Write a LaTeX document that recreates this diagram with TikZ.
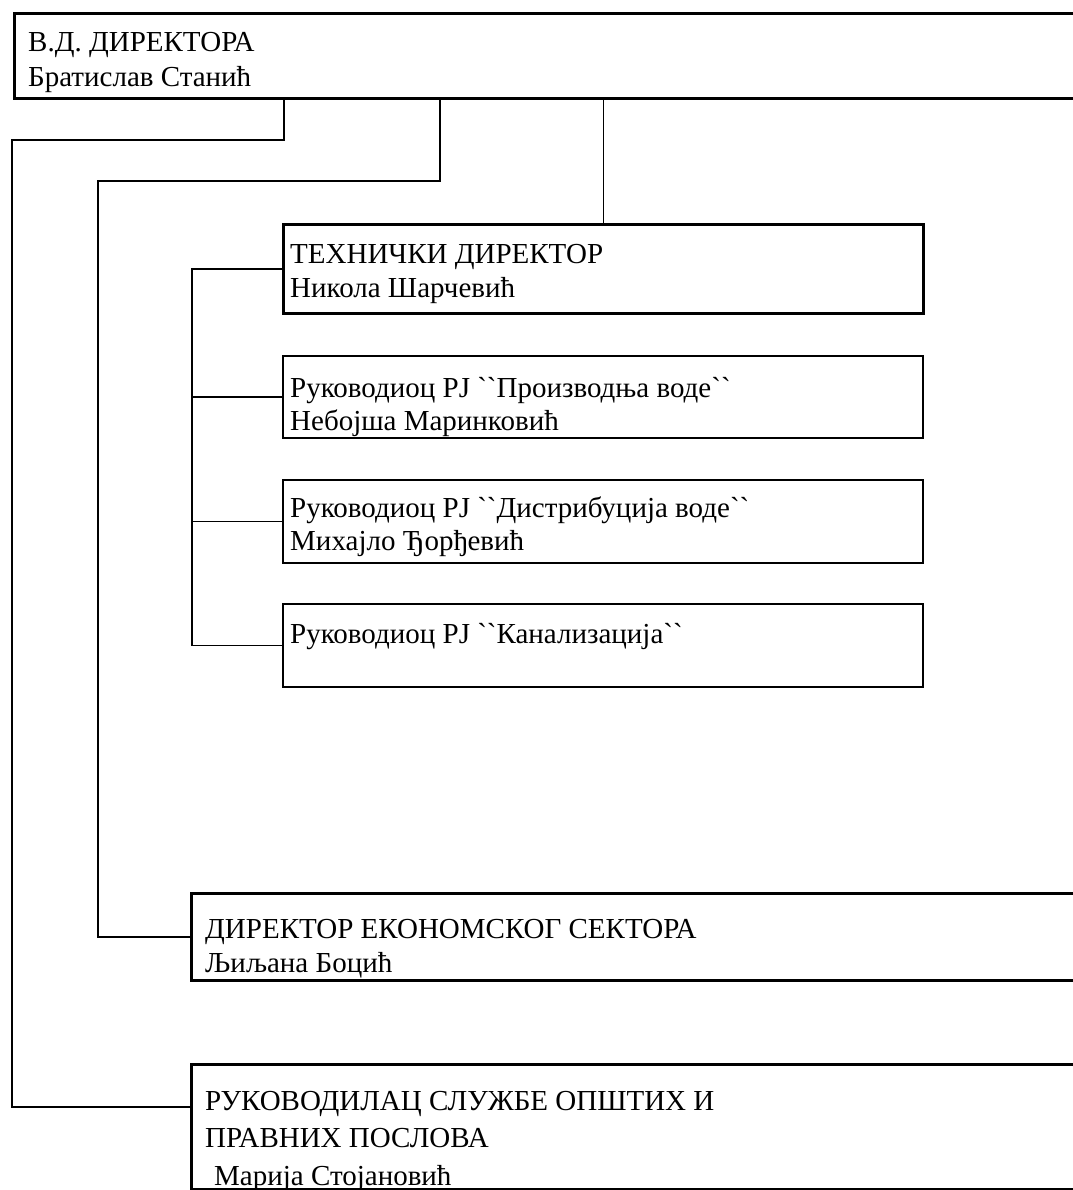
\documentclass[tikz,border=0pt]{standalone}
\usepackage{fontspec}
\usepackage{tikz}
\newfontfamily\orgfont{Liberation Serif}

\tikzset{
  bigbox/.style={draw, line width=3.2pt, inner sep=0pt, anchor=north west},
  smallbox/.style={draw, line width=1.6pt, inner sep=0pt, anchor=north west},
  conn/.style={line width=1.6pt},
  txt/.style={anchor=base west, inner sep=0pt, font=\orgfont\fontsize{29}{33}\selectfont}
}

\begin{document}
\begin{tikzpicture}[x=1pt,y=-1pt]
  \useasboundingbox (0,0) rectangle (1072,1190);

  % boxes
  \node[bigbox, minimum width=1062pt, minimum height=85pt] (vd) at (13,12) {};
  \node[bigbox, minimum width=640pt, minimum height=89pt] (tech) at (282,223) {};
  \node[smallbox, minimum width=640pt, minimum height=82pt] (prod) at (282,355) {};
  \node[smallbox, minimum width=640pt, minimum height=83pt] (dist) at (282,479) {};
  \node[smallbox, minimum width=640pt, minimum height=83pt] (kan) at (282,603) {};
  \node[bigbox, minimum width=885pt, minimum height=87pt] (econ) at (190,892) {};
  \node[bigbox, minimum width=885pt, minimum height=125pt] (legal) at (190,1063) {};

  % texts
  \node[txt] (vdtitle) at (28,52) {В.Д. ДИРЕКТОРА};
  \node[txt] (vdname) at (28,87) {Братислав Станић};
  \node[txt] (techtitle) at (290,263) {ТЕХНИЧКИ ДИРЕКТОР};
  \node[txt] (techname) at (290,297) {Никола Шарчевић};
  \node[txt] (prodtitle) at (290,397) {Руководиоц PJ ``Производња воде``};
  \node[txt] (prodname) at (290,430) {Небојша Маринковић};
  \node[txt] (disttitle) at (290,517) {Руководиоц PJ ``Дистрибуција воде``};
  \node[txt] (distname) at (290,550) {Михајло Ђорђевић};
  \node[txt] (kantitle) at (290,643) {Руководиоц PJ ``Канализација``};
  \node[txt] (econtitle) at (205,938) {ДИРЕКТОР ЕКОНОМСКОГ СЕКТОРА};
  \node[txt] (econname) at (205,972) {Љиљана Боцић};
  \node[txt] (legaltitle) at (205,1110) {РУКОВОДИЛАЦ СЛУЖБЕ ОПШТИХ И};
  \node[txt] (legaltitleb) at (205,1147) {ПРАВНИХ ПОСЛОВА};
  \node[txt] (legalname) at (214,1185) {Марија Стојановић};

  % connectors
  \coordinate (l1) at (284,140);
  \coordinate (l2) at (12,1107);
  \coordinate (e1) at (440,181);
  \coordinate (e2) at (98,181);
  \coordinate (bus) at (192,267);

  \draw[conn] (l1 |- vd.south) -- (l1) -| (l2) -- (l2 -| legal.west);
  \draw[conn] (e1 |- vd.south) -- (e1) -- (e2) |- (econ.west);
  \draw[conn] (tech.north) -- (tech.north |- vd.south);
  \draw[conn] (tech.west) -| (bus |- kan.west) -- (kan.west);
  \foreach \b in {prod,dist}
    \draw[conn] (bus |- \b.west) -- (\b.west);
\end{tikzpicture}
\end{document}
